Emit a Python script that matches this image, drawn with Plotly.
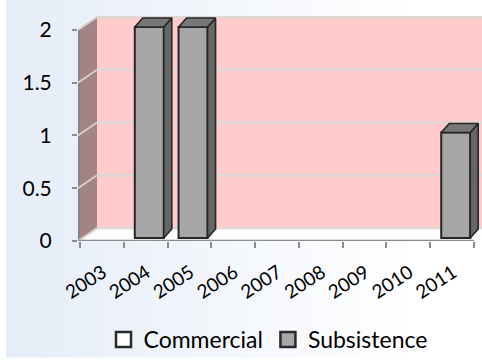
import plotly.graph_objects as go

# ---- data ----
years = ["2003", "2004", "2005", "2006", "2007", "2008", "2009", "2010", "2011"]
commercial = [0, 0, 0, 0, 0, 0, 0, 0, 0]
subsistence = [0, 2, 2, 0, 0, 0, 0, 0, 1]
y_tick_vals = [0, 0.5, 1, 1.5, 2]
y_tick_text = ["0", "0.5", "1", "1.5", "2"]

# ---- geometry (pixel scale helpers) ----
W, H = 482, 361
SX = 43.78   # px per category
SY = 106.0   # px per y unit
X_MIN = -0.5 - 2 / SX
X_MAX = -0.5 + (W - 80) / SX
Y_MAX = 226 / SY
WDX, WDY = 19 / SX, 13 / SY        # wall depth offset
BW = 29 / SX                        # bar front width
BXOFF, BYOFF = 3.6 / SX, 3 / SY     # bar front offset
BDX, BDY = 8 / SX, 9 / SY           # bar depth
LBL_SHIFT = 1.0 / SX                # label shift (perspective)

FONT = "Lato, 'Open Sans', sans-serif"
xs = list(range(len(years)))


def nz(vals):
    # zero-height columns are not drawn in a 3-D column chart
    return [v if v else None for v in vals]


fig = go.Figure()

fig.add_trace(go.Bar(
    x=xs, y=nz(commercial), base=BYOFF, name="Commercial", showlegend=False,
    width=BW, offset=BXOFF - BW / 2,
    marker=dict(color="#ffffff", line=dict(color="#303030", width=2)),
))
fig.add_trace(go.Bar(
    x=xs, y=nz(subsistence), base=BYOFF, name="Subsistence", showlegend=False,
    width=BW, offset=BXOFF - BW / 2,
    marker=dict(color="#a6a6a6", line=dict(color="#262626", width=2)),
))

# side and top faces derived from the data
side_x, side_y, top_x, top_y = [], [], [], []
for i, v in enumerate(subsistence):
    if v <= 0:
        continue
    x0 = i + BXOFF - BW / 2
    x1 = i + BXOFF + BW / 2
    y0 = BYOFF
    y1 = BYOFF + v
    side_x += [x1, x1 + BDX, x1 + BDX, x1, x1, None]
    side_y += [y0, y0 + BDY, y1 + BDY, y1, y0, None]
    top_x += [x0, x1, x1 + BDX, x0 + BDX, x0, None]
    top_y += [y1, y1, y1 + BDY, y1 + BDY, y1, None]

fig.add_trace(go.Scatter(
    x=side_x, y=side_y, mode="lines", fill="toself", fillcolor="#666666",
    line=dict(color="#262626", width=1.6), showlegend=False, hoverinfo="skip",
))
fig.add_trace(go.Scatter(
    x=top_x, y=top_y, mode="lines", fill="toself", fillcolor="#777777",
    line=dict(color="#262626", width=1.6), showlegend=False, hoverinfo="skip",
))

# legend entries
for name, col in (("Commercial", "#ffffff"), ("Subsistence", "#a6a6a6")):
    fig.add_trace(go.Scatter(
        x=[None], y=[None], mode="markers", name=name,
        marker=dict(symbol="square", size=15, color=col,
                    line=dict(color="#2a2a2a", width=2.5)),
    ))

shapes = []


def px2paper_x(p):
    return (p - 78) / (W - 78)


def px2paper_y(q):
    return (242 - q) / 226


# background gradient (paper coords)
N = 60
c0 = (230, 237, 248)
c1 = (255, 255, 255)
for k in range(N):
    t = k / (N - 1)
    t2 = min(1.0, t * 1.15)
    col = tuple(int(round(c0[j] + (c1[j] - c0[j]) * t2)) for j in range(3))
    p0 = 6 + k * (W - 6) / N
    p1 = 6 + (k + 1) * (W - 6) / N + 0.6
    shapes.append(dict(type="rect", xref="paper", yref="paper",
                       x0=px2paper_x(p0), x1=px2paper_x(p1),
                       y0=px2paper_y(359), y1=px2paper_y(0),
                       fillcolor="rgb(%d,%d,%d)" % col, line=dict(width=0),
                       layer="below"))

# back wall
shapes.append(dict(type="rect", xref="x", yref="y",
                   x0=X_MIN + WDX, x1=X_MAX + 1, y0=WDY, y1=y_tick_vals[-1] + WDY + 0.01,
                   fillcolor="#ffcbcb", line=dict(width=0), layer="below"))
# floor
fx1 = 8.5
shapes.append(dict(type="path", xref="x", yref="y",
                   path="M %f,%f L %f,%f L %f,%f L %f,%f Z" % (
                       X_MIN, 0, fx1, 0, fx1 + WDX, WDY, X_MIN + WDX, WDY),
                   fillcolor="#fdfdfd", line=dict(width=0), layer="below"))
# left wall
shapes.append(dict(type="path", xref="x", yref="y",
                   path="M %f,%f L %f,%f L %f,%f L %f,%f Z" % (
                       X_MIN, 0, X_MIN, y_tick_vals[-1], X_MIN + WDX, y_tick_vals[-1] + WDY,
                       X_MIN + WDX, WDY),
                   fillcolor="#a28484", line=dict(width=0), layer="below"))
# left wall front edge
shapes.append(dict(type="line", xref="x", yref="y",
                   x0=X_MIN + 0.01, x1=X_MIN + 0.01, y0=0, y1=y_tick_vals[-1],
                   line=dict(color="#808080", width=2), layer="below"))
# gridlines on back and left wall
for v in y_tick_vals:
    shapes.append(dict(type="line", xref="x", yref="y",
                       x0=X_MIN + WDX, x1=X_MAX + 1, y0=v + WDY, y1=v + WDY,
                       line=dict(color="#dcd6d6", width=2.5), layer="below"))
    shapes.append(dict(type="line", xref="x", yref="y",
                       x0=X_MIN, x1=X_MIN + WDX, y0=v, y1=v + WDY,
                       line=dict(color="#d8cccc", width=2), layer="below"))
# x axis line
shapes.append(dict(type="line", xref="x", yref="y",
                   x0=X_MIN, x1=8.5, y0=0, y1=0,
                   line=dict(color="#8c8c8c", width=2.5), layer="above"))

fig.update_layout(
    width=W, height=H,
    margin=dict(l=78, r=0, t=16, b=H - 242, pad=0),
    paper_bgcolor="#ffffff",
    plot_bgcolor="rgba(0,0,0,0)",
    barmode="overlay",
    shapes=shapes,
    font=dict(family=FONT, size=20, color="#000000"),
    showlegend=True,
    legend=dict(orientation="h", x=px2paper_x(268), xanchor="center",
                y=px2paper_y(341), yanchor="middle", itemwidth=30,
                font=dict(size=23), bgcolor="rgba(0,0,0,0)"),
    xaxis=dict(range=[X_MIN, X_MAX], tickmode="array",
               tickvals=[i + LBL_SHIFT for i in xs], ticktext=years,
               ticks="", showgrid=False, zeroline=False, showline=False,
               tickangle=-33, tickfont=dict(size=19), ticklabelstandoff=16,
               minor=dict(tickmode="array", tickvals=[i - 0.5 for i in range(len(years) + 1)],
                          ticks="outside", ticklen=6, tickwidth=2, tickcolor="#8c8c8c",
                          showgrid=False)),
    yaxis=dict(range=[0, Y_MAX], tickmode="array", tickvals=y_tick_vals,
               ticktext=y_tick_text, ticks="outside", ticklen=5, tickwidth=2,
               tickcolor="#8c8c8c", showgrid=False, zeroline=False, showline=False,
               ticklabelstandoff=16, tickfont=dict(size=21)),
)

fig.write_html("out.html")
